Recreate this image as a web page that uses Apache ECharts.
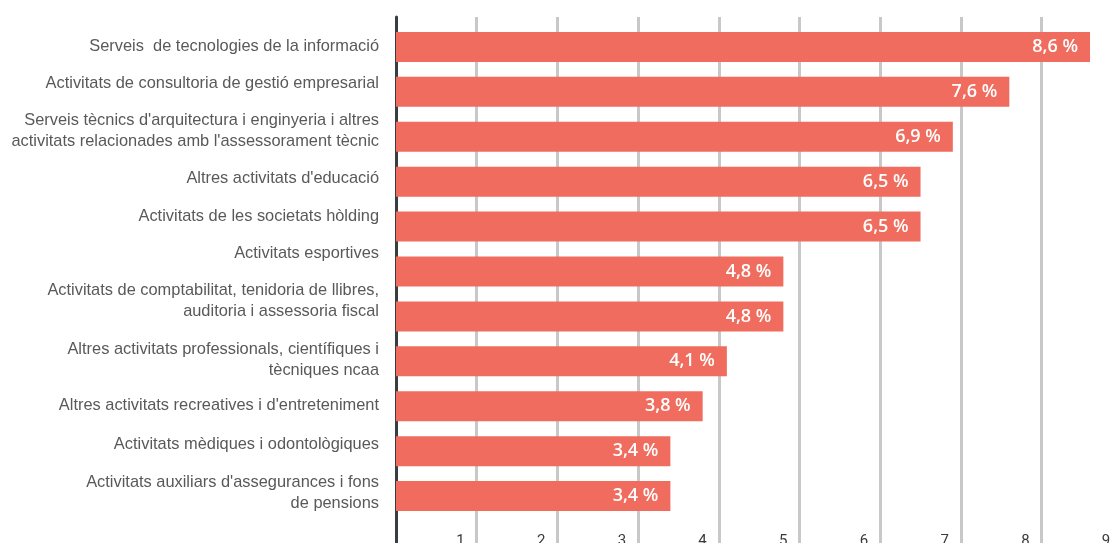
<!DOCTYPE html>
<html>
<head>
<meta charset="utf-8">
<script src="https://cdn.jsdelivr.net/npm/echarts@6/dist/echarts.min.js"></script>
<style>
  html, body { margin: 0; padding: 0; background: #fff; }
  #chart { width: 1110px; height: 543px; }
</style>
</head>
<body>
<div id="chart"></div>
<script>
const categories = [
  'Serveis  de tecnologies de la informació',
  'Activitats de consultoria de gestió empresarial',
  "Serveis tècnics d'arquitectura i enginyeria i altres\nactivitats relacionades amb l'assessorament tècnic",
  "Altres activitats d'educació",
  'Activitats de les societats hòlding',
  'Activitats esportives',
  'Activitats de comptabilitat, tenidoria de llibres,\nauditoria i assessoria fiscal',
  'Altres activitats professionals, científiques i\ntècniques ncaa',
  "Altres activitats recreatives i d'entreteniment",
  'Activitats mèdiques i odontològiques',
  "Activitats auxiliars d'assegurances i fons\nde pensions"
]
const values = [8.6, 7.6, 6.9, 6.5, 6.5, 4.8, 4.8, 4.1, 3.8, 3.4, 3.4]
const xTicks = [0, 1, 2, 3, 4, 5, 6, 7, 8, 9]

// layout
const gridLeft = 396
const plotWidth = 726.3
const barTop = 24.5
const barHeight = 494
const lineH = 21

// the category names in the original are stacked as a text list,
// not centred on the bars, so shift each one up to its stacked place
const band = barHeight / categories.length
const labelTop = 27.4
const blockPad = 16.3
const gaps = []
let y = labelTop
categories.forEach((name, i) => {
  const h = blockPad + lineH * name.split('\n').length
  const stacked = y + h / 2
  const barCenter = barTop + band * (i + 0.5)
  gaps.push(Math.max(0, 2 * (barCenter - stacked)))
  y += h
})

const rich = {
  t: { fontFamily: 'Liberation Sans', fontSize: 16.4, lineHeight: lineH, color: '#595959', align: 'right' }
}
gaps.forEach((g, i) => {
  rich['g' + i] = { fontSize: 1, lineHeight: Math.max(1, g), height: Math.max(1, g) }
})

const chart = echarts.init(document.getElementById('chart'))

const option = {
  animation: false,
  grid: [
    // bars
    { left: gridLeft, width: plotWidth, top: barTop, height: barHeight, outerBoundsMode: 'none' },
    // gridlines, axis line and tick labels
    { left: gridLeft, width: plotWidth, top: 17, height: 546, outerBoundsMode: 'none' }
  ],
  xAxis: [
    {
      gridIndex: 0, type: 'value', min: 0, max: 9, interval: 1,
      show: false
    },
    {
      gridIndex: 1, type: 'value', min: xTicks[0], max: xTicks[xTicks.length - 1], interval: 1,
      axisLine: { show: false },
      axisTick: { show: false },
      splitLine: { show: true, lineStyle: { color: '#c8c8c8', width: 3 } },
      axisLabel: {
        inside: true,
        margin: 14,
        align: 'right',
        padding: [0, 12, 0, 0],
        color: '#3a3a3a',
        fontFamily: 'Roboto',
        fontSize: 15,
        formatter: v => (v === 0 ? '' : String(v))
      }
    }
  ],
  yAxis: [
    {
      gridIndex: 0, type: 'category', data: categories, inverse: true,
      axisLine: { show: false },
      axisTick: { show: false },
      axisLabel: {
        margin: 17,
        rich: rich,
        formatter: (value, index) =>
          value.split('\n').map(s => '{t|' + s + '}').join('\n') + '\n{g' + index + '| }'
      }
    },
    {
      gridIndex: 1, type: 'value', min: 0, max: 1,
      axisLine: { show: true, lineStyle: { color: '#3a3d40', width: 3 } },
      axisTick: { show: false },
      axisLabel: { show: false },
      splitLine: { show: false }
    }
  ],
  series: [
    {
      type: 'bar',
      xAxisIndex: 0,
      yAxisIndex: 0,
      data: values,
      barWidth: 30,
      z: 3,
      itemStyle: { color: '#f06c5e' },
      label: {
        show: true,
        position: 'insideRight',
        distance: 12,
        color: '#fff',
        fontFamily: 'Open Sans',
        fontWeight: 600,
        fontSize: 18,
        formatter: p => p.value.toFixed(1).replace('.', ',') + ' %'
      }
    }
  ]
}

chart.setOption(option)
</script>
</body>
</html>
